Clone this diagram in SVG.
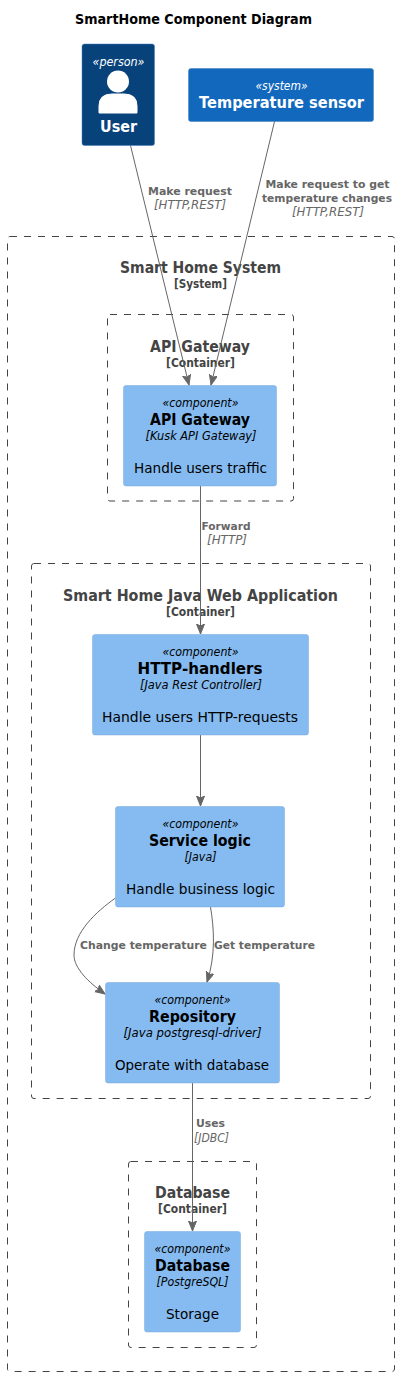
<svg xmlns="http://www.w3.org/2000/svg" width="400" height="1376" viewBox="0 0 400 1376">
<style>
text{font-family:"DejaVu Sans","Liberation Sans",sans-serif;text-anchor:middle}
.b{fill:none;stroke:#444;stroke-width:1;stroke-dasharray:7 7}
.bt{font-size:16px;font-weight:700;fill:#444}
.bs{font-size:12px;font-weight:700;fill:#444}
.c{fill:#85BBF0;stroke:#78A8D8;stroke-width:.5}
.st{font-size:12px;font-style:italic;fill:#000}
.nm{font-size:16px;font-weight:700;fill:#000}
.te{font-size:12px;font-style:italic;fill:#000}
.de{font-size:14px;fill:#000}
.w{fill:#fff}
.l{font-size:11px;font-weight:700;fill:#666}
.li{font-size:11.500px;font-style:italic;fill:#666}
.e{fill:none;stroke:#666;stroke-width:1;marker-end:url(#a)}
</style>
<defs><marker id="a" markerUnits="userSpaceOnUse" markerWidth="12" markerHeight="10" refX="10" refY="4" orient="auto"><path d="M0 0L10 4L0 8L2 4Z" fill="#666" stroke="#666" stroke-width="1"/></marker></defs>
<rect width="400" height="1376" fill="#fff"/>
<text x="193.500" y="24" font-size="14" font-weight="700" textLength="237" lengthAdjust="spacingAndGlyphs">SmartHome Component Diagram</text>
<g id="boundary-system"><rect class="b" x="7.500" y="236.500" width="387" height="1135" rx="2.500"/><text class="bt" x="200.500" y="273" textLength="161" lengthAdjust="spacingAndGlyphs">Smart Home System</text><text class="bs" x="200.500" y="288" textLength="53" lengthAdjust="spacingAndGlyphs">[System]</text></g>
<g id="boundary-api"><rect class="b" x="107.500" y="314.500" width="186" height="186.500" rx="2.500"/><text class="bt" x="200" y="352" textLength="100" lengthAdjust="spacingAndGlyphs">API Gateway</text><text class="bs" x="200.500" y="367" textLength="69" lengthAdjust="spacingAndGlyphs">[Container]</text></g>
<g id="boundary-java"><rect class="b" x="31.500" y="563.500" width="339" height="535" rx="2.500"/><text class="bt" x="200.500" y="601" textLength="275" lengthAdjust="spacingAndGlyphs">Smart Home Java Web Application</text><text class="bs" x="200.500" y="616" textLength="69" lengthAdjust="spacingAndGlyphs">[Container]</text></g>
<g id="boundary-db"><rect class="b" x="128.500" y="1161.500" width="128" height="186" rx="2.500"/><text class="bt" x="192.500" y="1198" textLength="75" lengthAdjust="spacingAndGlyphs">Database</text><text class="bs" x="192.500" y="1213" textLength="69" lengthAdjust="spacingAndGlyphs">[Container]</text></g>
<g id="connectors">
<path class="e" d="M130.500 145.500L189 385"/>
<path class="e" d="M274.500 121.500L211 385"/>
<path class="e" d="M200.500 486V634"/>
<path class="e" d="M200.500 735V806"/>
<path class="e" d="M115.500 898C96 912 74 932 74 955C74 968 88 982 105 994"/>
<path class="e" d="M210.500 907C214 928 216 955 207 982"/>
<path class="e" d="M192.500 1083V1231"/>
<text class="l" x="190" y="195" textLength="84" lengthAdjust="spacingAndGlyphs">Make request</text><text class="li" x="190" y="209" textLength="72" lengthAdjust="spacingAndGlyphs">[HTTP,REST]</text>
<text class="l" x="327.500" y="188" textLength="124" lengthAdjust="spacingAndGlyphs">Make request to get</text><text class="l" x="327" y="202" textLength="130" lengthAdjust="spacingAndGlyphs">temperature changes</text><text class="li" x="328" y="216" textLength="72" lengthAdjust="spacingAndGlyphs">[HTTP,REST]</text>
<text class="l" x="226" y="530" textLength="49" lengthAdjust="spacingAndGlyphs">Forward</text><text class="li" x="227" y="544" textLength="40" lengthAdjust="spacingAndGlyphs">[HTTP]</text>
<text class="l" x="143.500" y="949" textLength="127" lengthAdjust="spacingAndGlyphs">Change temperature</text>
<text class="l" x="264.500" y="949" textLength="101" lengthAdjust="spacingAndGlyphs">Get temperature</text>
<text class="l" x="210.500" y="1127" textLength="29" lengthAdjust="spacingAndGlyphs">Uses</text><text class="li" x="211.500" y="1142" textLength="35" lengthAdjust="spacingAndGlyphs">[JDBC]</text>
</g>
<g id="user"><rect x="82" y="44" width="72.500" height="101.500" rx="2.500" fill="#08427B" stroke="#3C7FC0" stroke-width=".5"/><text class="st w" x="118.500" y="66" textLength="52" lengthAdjust="spacingAndGlyphs">«person»</text><circle cx="118" cy="81.500" r="11" fill="#fff"/><path d="M99 113V106Q99 94 112 94H124Q137 94 137 106V113Z" fill="#fff" stroke="#fff" stroke-linejoin="round"/><text class="w" x="118.500" y="132" font-size="16" font-weight="700" textLength="37" lengthAdjust="spacingAndGlyphs">User</text></g>
<g id="temperature-sensor"><rect x="188.500" y="68.500" width="185" height="53" rx="2.500" fill="#1168BD" stroke="#3C7FC0" stroke-width=".5"/><text class="st w" x="281.500" y="90" textLength="52" lengthAdjust="spacingAndGlyphs">«system»</text><text class="w" x="281.500" y="108" font-size="16" font-weight="700" textLength="165" lengthAdjust="spacingAndGlyphs">Temperature sensor</text></g>
<g id="api-gateway"><rect class="c" x="123.500" y="385.500" width="153" height="100.500" rx="2.500"/><text class="st" x="200.500" y="407" textLength="76" lengthAdjust="spacingAndGlyphs">«component»</text><text class="nm" x="200" y="425" textLength="100" lengthAdjust="spacingAndGlyphs">API Gateway</text><text class="te" x="201" y="440" textLength="111" lengthAdjust="spacingAndGlyphs">[Kusk API Gateway]</text><text class="de" x="200.500" y="473" textLength="133" lengthAdjust="spacingAndGlyphs">Handle users traffic</text></g>
<g id="http-handlers"><rect class="c" x="92.500" y="634.500" width="216" height="100.500" rx="2.500"/><text class="st" x="200.500" y="656" textLength="76" lengthAdjust="spacingAndGlyphs">«component»</text><text class="nm" x="200" y="674" textLength="125" lengthAdjust="spacingAndGlyphs">HTTP-handlers</text><text class="te" x="201" y="689" textLength="122" lengthAdjust="spacingAndGlyphs">[Java Rest Controller]</text><text class="de" x="200" y="722" textLength="196" lengthAdjust="spacingAndGlyphs">Handle users HTTP-requests</text></g>
<g id="service-logic"><rect class="c" x="115.500" y="806.500" width="169" height="100.500" rx="2.500"/><text class="st" x="200.500" y="828" textLength="76" lengthAdjust="spacingAndGlyphs">«component»</text><text class="nm" x="200" y="846" textLength="102" lengthAdjust="spacingAndGlyphs">Service logic</text><text class="te" x="200.500" y="861" textLength="32" lengthAdjust="spacingAndGlyphs">[Java]</text><text class="de" x="200.500" y="894" textLength="149" lengthAdjust="spacingAndGlyphs">Handle business logic</text></g>
<g id="repository"><rect class="c" x="105.500" y="982.500" width="174" height="100.500" rx="2.500"/><text class="st" x="192.500" y="1004" textLength="76" lengthAdjust="spacingAndGlyphs">«component»</text><text class="nm" x="192.500" y="1022" textLength="87" lengthAdjust="spacingAndGlyphs">Repository</text><text class="te" x="192.500" y="1037" textLength="138" lengthAdjust="spacingAndGlyphs">[Java postgresql-driver]</text><text class="de" x="192" y="1070" textLength="154" lengthAdjust="spacingAndGlyphs">Operate with database</text></g>
<g id="database"><rect class="c" x="144.500" y="1231.500" width="96" height="100.500" rx="2.500"/><text class="st" x="192.500" y="1253" textLength="76" lengthAdjust="spacingAndGlyphs">«component»</text><text class="nm" x="192.500" y="1271" textLength="75" lengthAdjust="spacingAndGlyphs">Database</text><text class="te" x="192.500" y="1286" textLength="72" lengthAdjust="spacingAndGlyphs">[PostgreSQL]</text><text class="de" x="192.500" y="1319" textLength="53" lengthAdjust="spacingAndGlyphs">Storage</text></g>
</svg>
